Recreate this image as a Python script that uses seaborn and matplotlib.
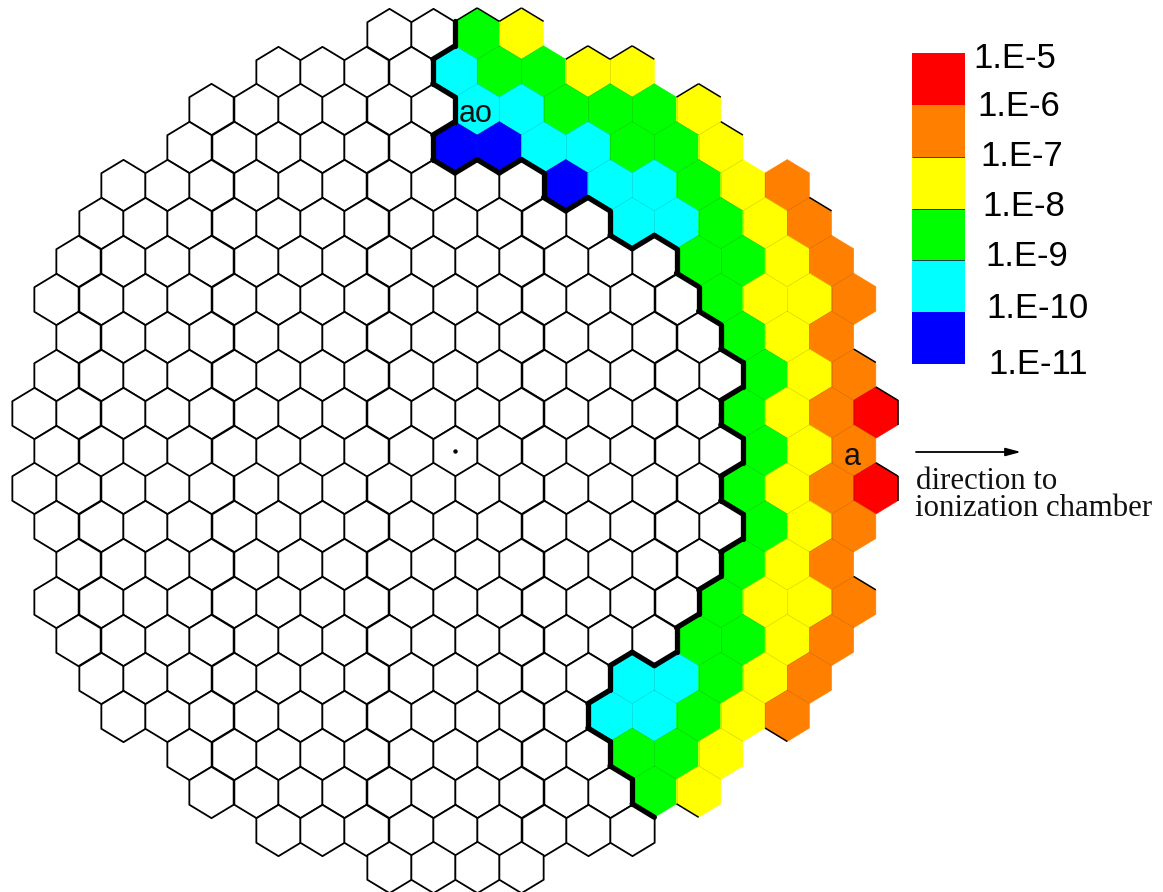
import numpy as np
import pandas as pd
import matplotlib
matplotlib.use('Agg')
import matplotlib.pyplot as plt
from matplotlib.path import Path
from matplotlib.collections import LineCollection
from matplotlib.colors import ListedColormap
import seaborn as sns

# data: one entry per row of the core map, top to bottom
# cols are counted in half cell widths from the centre cell
rows = list(range(11, -12, -1))
row_extent = [3, 8, 11, 12, 15, 16, 17, 18, 17, 18, 19, 18, 19, 18, 17, 18, 17, 16, 15, 12, 11, 8, 3]
first_colored = [1, 0, 1, 0, 5, 8, 11, 12, 13, 14, 13, 14, 13, 14, 13, 12, 11, 8, 7, 8, 9, 0, 0]
row_bands = ['gy', 'cggyy', 'ccgggy', 'bbccggy', 'bccgyo', 'ccgyo', 'ggyo', 'gyyo', 'gyo', 'gyo', 'gyor',
             'gyo', 'gyor', 'gyo', 'gyo', 'gyyo', 'ggyo', 'ccgyo', 'ccgyo', 'ggy', 'gy', '', '']

band_codes = ['r', 'o', 'y', 'g', 'c', 'b']
band_colors = ['#ff0000', '#ff8000', '#ffff00', '#00ff00', '#00ffff', '#0000ff']
legend_labels = ['1.E-5', '1.E-6', '1.E-7', '1.E-8', '1.E-9', '1.E-10', '1.E-11']
legend_label_x = [973, 977, 980, 982, 985, 986, 988]
legend_label_y = [59, 106, 157, 207, 256, 308, 364]

# cell sides that still show a thin black outline in the original
outlined = [(11, 1, 'UL'), (11, 1, 'UR'), (11, 3, 'UL'), (11, 3, 'UR'), (10, 6, 'UL'), (10, 6, 'UR'),
            (10, 8, 'UL'), (10, 8, 'UR'), (9, 11, 'UL'), (9, 11, 'UR'), (8, 12, 'UR'), (6, 16, 'UR'),
            (2, 18, 'UR'), (1, 19, 'UR'), (1, 19, 'R'), (-1, 19, 'UR'), (-1, 19, 'R'), (-4, 18, 'UR'),
            (-7, 15, 'LL'), (-9, 11, 'LL')]

W, H, DPI = 1163, 892, 100
CX, CY = 455, 450.5     # centre cell in pixels
HALF_W = 22.15          # half cell width in pixels
PITCH = 37.9            # row distance in pixels
H1 = 0.323              # half of the vertical side, in rows
H2 = 1 - H1             # top vertex, in rows

sns.set_theme(style='white')
plt.rcParams['font.family'] = ['Liberation Sans', 'DejaVu Sans']

cells = []
for r, ext, start, bands in zip(rows, row_extent, first_colored, row_bands):
    for c in range(-ext, ext + 1, 2):
        band = 'w'
        if bands and c >= start:
            band = bands[(c - start) // 2]
        cells.append({'col': c, 'row': r, 'band': band})
df = pd.DataFrame(cells)

fig = plt.figure(figsize=(W / DPI, H / DPI), dpi=DPI)
ax = fig.add_axes([0, 0, 1, 1])

# hexagon marker, same shape as the cell edges below
hex_verts = np.array([(0, H2 * PITCH), (HALF_W, H1 * PITCH), (HALF_W, -H1 * PITCH),
                      (0, -H2 * PITCH), (-HALF_W, -H1 * PITCH), (-HALF_W, H1 * PITCH), (0, H2 * PITCH)])
hex_marker = Path(hex_verts, closed=True)
hex_size = (2 * H2 * PITCH * 72 / DPI) ** 2

sns.scatterplot(data=df[df.band == 'w'], x='col', y='row', marker=hex_marker, s=hex_size,
                color='white', edgecolor='black', linewidth=1.3, legend=False, ax=ax)
sns.scatterplot(data=df[df.band != 'w'], x='col', y='row', hue='band', hue_order=band_codes,
                palette=band_colors, marker=hex_marker, s=hex_size, edgecolor='face',
                linewidth=0.4, legend=False, ax=ax)
sns.scatterplot(x=[0], y=[0], color='black', s=10, linewidth=0, legend=False, ax=ax, zorder=5)

# sides: neighbour offset and the two end points of the shared edge
sides = {'R': ((2, 0), (1, H1), (1, -H1)),
         'L': ((-2, 0), (-1, H1), (-1, -H1)),
         'UR': ((1, 1), (0, H2), (1, H1)),
         'UL': ((-1, 1), (0, H2), (-1, H1)),
         'LR': ((1, -1), (0, -H2), (1, -H1)),
         'LL': ((-1, -1), (0, -H2), (-1, -H1))}

lookup = {(a, b): band for a, b, band in zip(df.col, df.row, df.band)}
thick = []
faint = []
for (c, r), band in lookup.items():
    if band == 'w':
        continue
    for off, p0, p1 in sides.values():
        other = lookup.get((c + off[0], r + off[1]))
        seg = [(c + p0[0], r + p0[1]), (c + p1[0], r + p1[1])]
        if other == 'w':
            thick.append(seg)
        elif other is not None:
            faint.append(seg)
ax.add_collection(LineCollection(faint, colors='black', linewidths=0.4, alpha=0.1, zorder=2))
ax.add_collection(LineCollection(thick, colors='black', linewidths=3.8, capstyle='round', zorder=3))

thin = []
for r, c, s in outlined:
    off, p0, p1 = sides[s]
    thin.append([(c + p0[0], r + p0[1]), (c + p1[0], r + p1[1])])
ax.add_collection(LineCollection(thin, colors='black', linewidths=1.1, zorder=3))

ax.set_xlim(-CX / HALF_W, (W - CX) / HALF_W)
ax.set_ylim(-(H - CY) / PITCH, CY / PITCH)
ax.axis('off')


def fx(px):
    return px / W


def fy(py):
    return 1 - py / H


# cell labels
fig.text(fx(476), fy(114), 'ao', fontsize=22, ha='center', va='center', color='#111111')
fig.text(fx(852), fy(457), 'a', fontsize=22, ha='center', va='center', color='#111111')

# colour key
ax_key = fig.add_axes([fx(912), fy(364), fx(965) - fx(912), (364 - 53) / H])
key = np.arange(len(band_codes)).reshape(-1, 1)
sns.heatmap(key, cmap=ListedColormap(band_colors), cbar=False, xticklabels=False, yticklabels=False, ax=ax_key)
ax_key.hlines([2, 3, 4], 0, 1, colors='#222222', linewidths=0.6)

for lab, x, y in zip(legend_labels, legend_label_x, legend_label_y):
    fig.text(fx(x), fy(y), lab, fontsize=25, ha='left', va='center', color='black')

# direction note
ax.annotate('', xy=(fx(1021), fy(452)), xytext=(fx(916), fy(452)), xycoords='figure fraction',
            textcoords='figure fraction',
            arrowprops=dict(arrowstyle='-|>,head_length=0.75,head_width=0.2', color='black', lw=1.3,
                            shrinkA=0, shrinkB=0))
fig.text(fx(916), fy(489), 'direction to', fontsize=22.2, family=['Liberation Serif'], va='baseline', color='#111111')
fig.text(fx(915), fy(516), 'ionization chamber', fontsize=22.2, family=['Liberation Serif'], va='baseline', color='#111111')

fig.savefig('out.png', dpi=DPI)
